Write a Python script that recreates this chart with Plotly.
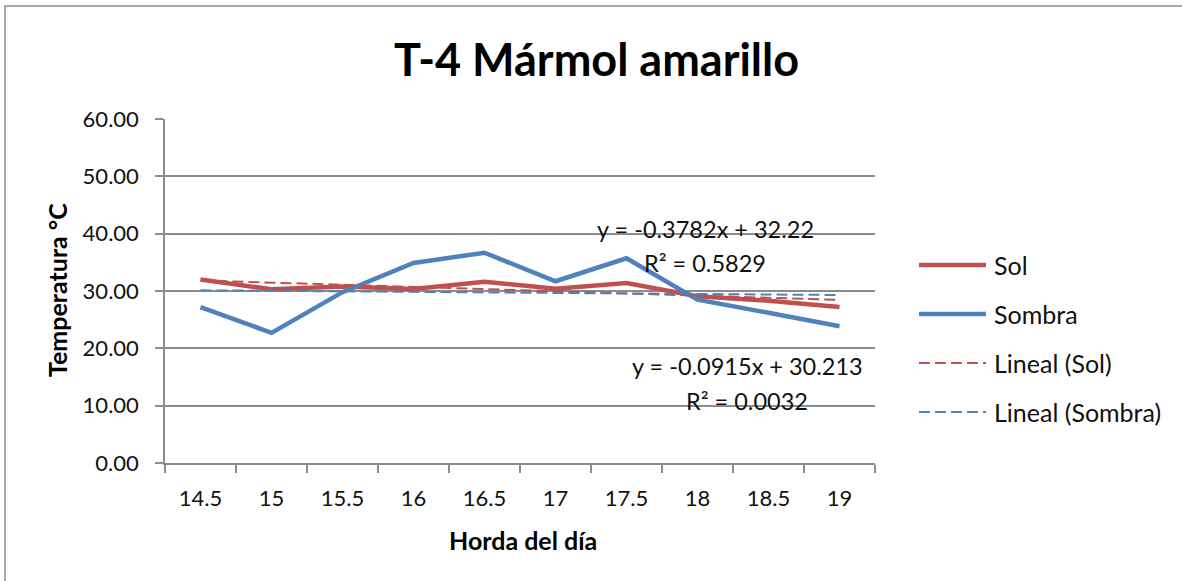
import plotly.graph_objects as go

# Hours of the day (category axis) and measured temperatures
horas = ["14.5", "15", "15.5", "16", "16.5", "17", "17.5", "18", "18.5", "19"]
sol = [32.0, 30.3, 30.8, 30.35, 31.6, 30.4, 31.4, 29.1, 28.3, 27.2]
sombra = [27.2, 22.7, 29.8, 34.9, 36.67, 31.7, 35.7, 28.5, 26.2, 23.85]

# Linear trend coefficients (x = 1..n)
sol_pend, sol_orig, sol_r2 = -0.3782, 32.22, 0.5829
sombra_pend, sombra_orig, sombra_r2 = -0.0915, 30.213, 0.0032

ROJO = "#C0504D"
AZUL = "#4F81BD"
GRIS = "#8C8C8C"
FUENTE = "Lato"
TEXTO = "#111111"

W, H = 1182, 581
L, R, T, B = 165, 875, 119, 463  # plot area in pixels


def px(x):
    return (x - L) / (R - L)


def py(y):
    return (B - y) / (B - T)


n = len(horas)
idx = list(range(1, n + 1))
trend_sol = [sol_pend * i + sol_orig for i in idx]
trend_sombra = [sombra_pend * i + sombra_orig for i in idx]

fig = go.Figure()
fig.add_trace(go.Scatter(x=horas, y=sol, mode="lines", name="Sol",
                         line=dict(color=ROJO, width=4.5)))
fig.add_trace(go.Scatter(x=horas, y=sombra, mode="lines", name="Sombra",
                         line=dict(color=AZUL, width=4.5)))
fig.add_trace(go.Scatter(x=horas, y=trend_sol, mode="lines", name="Lineal (Sol)",
                         line=dict(color=ROJO, width=2, dash="11px,5px")))
fig.add_trace(go.Scatter(x=horas, y=trend_sombra, mode="lines", name="Lineal (Sombra)",
                         line=dict(color=AZUL, width=2, dash="11px,5px")))

shapes = []
annotations = []

# Outer chart frame (left and top edges), drawn as one open path
x_izq, y_sup = px(5), py(6)
shapes.append(dict(type="path", xref="paper", yref="paper",
                   path=f"M {x_izq} {py(H + 10)} L {x_izq} {y_sup} L {px(W + 10)} {y_sup}",
                   line=dict(color=GRIS, width=1.5)))

# Legend drawn by hand
leyenda = [("Sol", ROJO, 4.5, "solid"), ("Sombra", AZUL, 4.5, "solid"),
           ("Lineal (Sol)", ROJO, 2, "11px,5px"), ("Lineal (Sombra)", AZUL, 2, "11px,5px")]
for k, (nombre, color, ancho, guion) in enumerate(leyenda):
    yy = 265 + k * 49
    shapes.append(dict(type="line", xref="paper", yref="paper",
                       x0=px(919), x1=px(986), y0=py(yy), y1=py(yy),
                       line=dict(color=color, width=ancho, dash=guion)))
    annotations.append(dict(xref="paper", yref="paper", x=px(992), y=py(yy),
                            text=nombre, showarrow=False, xanchor="left", yanchor="middle",
                            font=dict(family=FUENTE, size=25, color=TEXTO)))

# Trend equations
def ecuacion(pend, orig, r2, cx, cy1, cy2):
    annotations.append(dict(xref="paper", yref="paper", x=px(cx), y=py(cy1),
                            text=f"y = {pend}x + {orig}", showarrow=False,
                            xanchor="center", yanchor="middle",
                            font=dict(family=FUENTE, size=23.5, color=TEXTO)))
    annotations.append(dict(xref="paper", yref="paper", x=px(cx), y=py(cy2),
                            text=f"R² = {r2:.4f}", showarrow=False,
                            xanchor="center", yanchor="middle",
                            font=dict(family=FUENTE, size=23.5, color=TEXTO)))


ecuacion(sol_pend, sol_orig, sol_r2, 705, 229, 263)
ecuacion(sombra_pend, sombra_orig, sombra_r2, 747, 366, 401)

# Title and axis titles
annotations.append(dict(xref="paper", yref="paper", x=px(596), y=py(59),
                        text="<b>T-4 Mármol amarillo</b>", showarrow=False,
                        xanchor="center", yanchor="middle",
                        font=dict(family=FUENTE, size=45, color="#000000")))
annotations.append(dict(xref="paper", yref="paper", x=px(57), y=py(290),
                        text="<b>Temperatura °C</b>", showarrow=False, textangle=-90,
                        xanchor="center", yanchor="middle",
                        font=dict(family=FUENTE, size=25, color="#000000")))
annotations.append(dict(xref="paper", yref="paper", x=px(523), y=py(540),
                        text="<b>Horda del día</b>", showarrow=False,
                        xanchor="center", yanchor="middle",
                        font=dict(family=FUENTE, size=25, color="#000000")))

fig.update_layout(
    width=W, height=H,
    margin=dict(l=L, r=W - R, t=T, b=H - B, pad=0),
    paper_bgcolor="white", plot_bgcolor="white",
    showlegend=False,
    shapes=shapes, annotations=annotations,
    font=dict(family=FUENTE, size=22, color=TEXTO),
)
fig.update_xaxes(type="category", range=[-0.5, n - 0.5], tickson="boundaries",
                 ticks="outside", ticklen=8,
                 tickcolor=GRIS, tickwidth=1.5, showline=True, linecolor=GRIS, linewidth=1.5,
                 showgrid=False, zeroline=False, ticklabelstandoff=15,
                 tickfont=dict(family=FUENTE, size=22, color=TEXTO))
fig.update_yaxes(range=[0, 60], dtick=10, tickformat=".2f", ticks="outside", ticklen=8,
                 tickcolor=GRIS, tickwidth=1.5, showline=True, linecolor=GRIS, linewidth=1.5,
                 showgrid=True, gridcolor=GRIS, gridwidth=1.5, zeroline=False,
                 ticklabelstandoff=12,
                 tickfont=dict(family=FUENTE, size=22, color=TEXTO))

fig.write_html("out.html", config={"displayModeBar": False})
